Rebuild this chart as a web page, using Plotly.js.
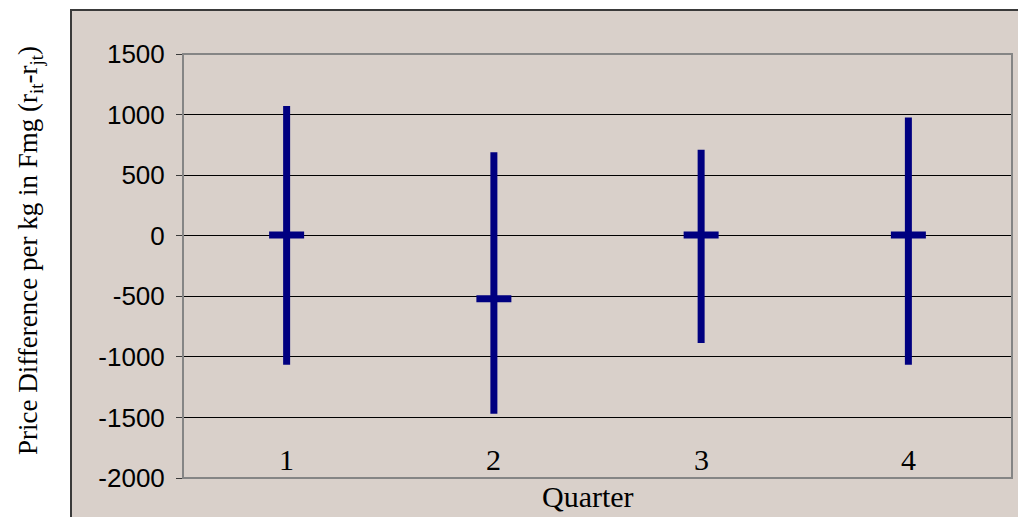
<!DOCTYPE html>
<html>
<head>
<meta charset="utf-8">
<script src="https://cdn.plot.ly/plotly-3.0.1.min.js"></script>
<style>
  html, body { margin: 0; padding: 0; background: #ffffff; width: 1018px; height: 517px; overflow: hidden; }
  #frame { position: absolute; left: 70px; top: 9px; width: 1000px; height: 600px;
           background: #d9d0ca; border-left: 2px solid #3a3a3a; border-top: 2px solid #3a3a3a; }
  #chart { position: absolute; left: 0; top: 0; width: 1018px; height: 517px; }
</style>
</head>
<body>
<div id="frame"></div>
<div id="chart"></div>
<script>
const quarters = ["1", "2", "3", "4"];
const quarterPos = [1, 2, 3, 4];
const highs = [1070, 690, 710, 975];
const lows = [-1065, -1470, -885, -1065];
const means = [5, -520, 5, 5];
const yTicks = [-2000, -1500, -1000, -500, 0, 500, 1000, 1500];
const yTitle = "Price Difference per kg in Fmg (r<sub>it</sub>-r<sub>jt</sub>)";
const xTitle = "Quarter";

const up = highs.map((h, i) => h - means[i]);
const down = means.map((m, i) => m - lows[i]);

const navy = "#000080";
const serif = "Liberation Serif, Times New Roman, serif";

const trace = {
  type: "scatter",
  mode: "markers",
  x: quarterPos,
  y: means,
  marker: { symbol: "line-ew", size: 25, color: navy, line: { color: navy, width: 7 } },
  error_y: { type: "data", symmetric: false, array: up, arrayminus: down,
             thickness: 7, width: 0, color: navy },
  hoverinfo: "skip",
  showlegend: false
};

const xLabelAnnotations = quarterPos.map((q, i) => ({
  text: quarters[i], xref: "x", yref: "paper", x: q, y: 0.0425,
  xanchor: "center", yanchor: "middle", showarrow: false,
  font: { family: serif, size: 30, color: "#000" }
}));

const layout = {
  width: 1018, height: 517,
  margin: { l: 183, r: 6, t: 54, b: 39 },
  paper_bgcolor: "rgba(0,0,0,0)",
  plot_bgcolor: "#d9d0ca",
  showlegend: false,
  xaxis: {
    range: [0.5, 4.5],
    tickvals: quarterPos,
    showticklabels: false,
    ticks: "",
    showgrid: false,
    zeroline: false,
    showline: false,
    automargin: false,
    fixedrange: true
  },
  yaxis: {
    range: [-2000, 1500],
    tickvals: yTicks,
    ticktext: yTicks.map(String),
    showgrid: true,
    gridcolor: "#000000",
    gridwidth: 1,
    zeroline: false,
    showline: true,
    linecolor: "#3a3a3a",
    linewidth: 1,
    ticks: "outside",
    ticklen: 6,
    tickcolor: "#3a3a3a",
    tickwidth: 1,
    ticklabelstandoff: 6,
    tickfont: { family: "Liberation Sans, Arial, sans-serif", size: 26, color: "#000" },
    automargin: false,
    fixedrange: true
  },
  annotations: xLabelAnnotations.concat([
    { text: yTitle, xref: "paper", yref: "paper", x: -0.1846, y: 0.5377,
      xanchor: "center", yanchor: "middle", textangle: -90, showarrow: false,
      font: { family: serif, size: 27, color: "#000" } },
    { text: xTitle, xref: "paper", yref: "paper", x: 0.4885, y: -0.0448,
      xanchor: "center", yanchor: "middle", showarrow: false,
      font: { family: serif, size: 30, color: "#000" } }
  ]),
  shapes: [
    { type: "rect", xref: "paper", yref: "paper", x0: 0, x1: 1, y0: 0, y1: 1,
      line: { color: "#858585", width: 2 }, layer: "above" }
  ]
};

Plotly.newPlot("chart", [trace], layout, { staticPlot: true, displayModeBar: false });
</script>
</body>
</html>
